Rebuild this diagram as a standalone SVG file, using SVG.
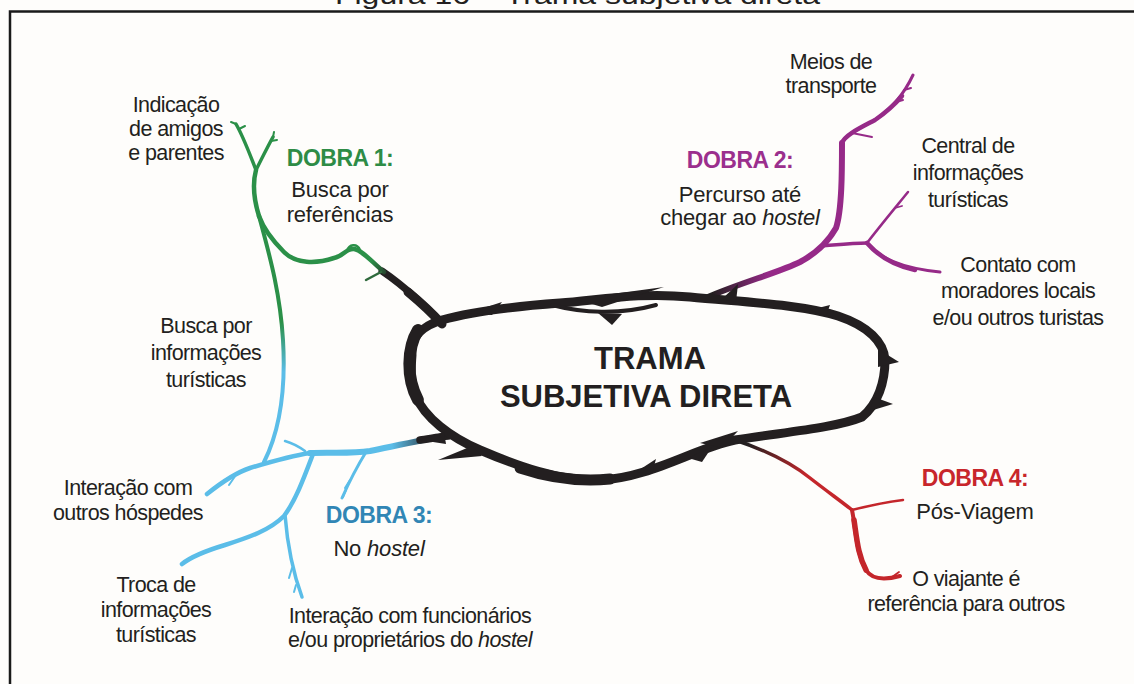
<svg xmlns="http://www.w3.org/2000/svg" width="1134" height="684" viewBox="0 0 1134 684">
<style>
text{font-family:"Liberation Sans",Arial,sans-serif;fill:#231f20;text-anchor:middle}
.lbl{font-size:21.5px;letter-spacing:-0.6px}
.sub{font-size:22px;letter-spacing:-0.2px}
.dob{font-size:23px;font-weight:bold;letter-spacing:-0.5px}
.ctr{font-size:31px;font-weight:bold}
.ttl{font-size:26px;text-anchor:start}
.br{fill:none;stroke-linecap:round;stroke-linejoin:round}
.ring{fill:none;stroke:#231f20;stroke-linejoin:round;stroke-linecap:round}
.thorn{fill:#231f20}
</style>
<defs>
<linearGradient id="gGreenRoot" gradientUnits="userSpaceOnUse" x1="392" y1="280" x2="370" y2="262">
<stop offset="0" stop-color="#231f20"/><stop offset="1" stop-color="#2b9048"/></linearGradient>
<linearGradient id="gStem" gradientUnits="userSpaceOnUse" x1="0" y1="322" x2="0" y2="372">
<stop offset="0" stop-color="#2b9048"/><stop offset="1" stop-color="#5bbde8"/></linearGradient>
<linearGradient id="gBlue" gradientUnits="userSpaceOnUse" x1="440" y1="0" x2="392" y2="0">
<stop offset="0" stop-color="#231f20"/><stop offset="1" stop-color="#5bbde8"/></linearGradient>
<linearGradient id="gPurple" gradientUnits="userSpaceOnUse" x1="712" y1="0" x2="768" y2="0">
<stop offset="0" stop-color="#231f20"/><stop offset="1" stop-color="#962a88"/></linearGradient>
<linearGradient id="gRed" gradientUnits="userSpaceOnUse" x1="748" y1="444" x2="806" y2="476">
<stop offset="0" stop-color="#231f20"/><stop offset="1" stop-color="#c4262b"/></linearGradient>
</defs>
<rect x="0" y="0" width="1134" height="684" fill="#fefdfb"/>
<text class="ttl" x="335" y="4" textLength="485" lengthAdjust="spacingAndGlyphs">Figura 16 – Trama subjetiva direta</text>
<rect x="10" y="11.5" width="1140" height="700" fill="none" stroke="#1a1a1a" stroke-width="2.5"/>

<g id="connectors">
 <!-- Dobra 1 (green) -->
 <path class="br" d="M442,324 C428,308 404,286 382,271" stroke="#231f20" stroke-width="7"/>
 <path class="br" d="M442,324 C432,313 420,302 408,292" stroke="#231f20" stroke-width="9"/>
 <path class="br" d="M384,272 C372,262 362,250 354,249 C346,248 344,256 334,258 C316,264 296,264 284,252 C272,240 264,230 259,216" stroke="url(#gGreenRoot)" stroke-width="4.5"/>
 <path class="br" d="M347,251 C349,244 357,243 360,250" stroke="#2b9048" stroke-width="2.5"/>
 <path class="br" d="M381,272 L366,280" stroke="#2f6a3c" stroke-width="2.5"/>
 <path class="br" d="M259,216 C254,200 252,185 256,170" stroke="#2b9048" stroke-width="4.5"/>
 <path class="br" d="M256,170 C250,155 244,138 236,124" stroke="#2b9048" stroke-width="3.5"/>
 <path class="br" d="M256,170 C262,158 268,146 273,137" stroke="#2b9048" stroke-width="3.5"/>
 <path class="br" d="M239,129 L245,126 M236,124 L231,122 M271,141 L277,140 M273,137 L274,132" stroke="#2b9048" stroke-width="2"/>
 <path class="br" d="M259,216 C268,250 280,290 283,340 C286,390 280,430 264,462" stroke="url(#gStem)" stroke-width="4"/>
 <!-- Dobra 3 (blue) -->
 <path class="br" d="M448,436 C420,440 395,446 370,451 C350,454 330,452 310,453" stroke="url(#gBlue)" stroke-width="6"/>
 <path class="br" d="M448,436 C438,437 428,439 420,440" stroke="#231f20" stroke-width="7.5"/>
 <path class="br" d="M310,453 C290,456 270,462 250,468 C235,473 222,482 207,494" stroke="#5bbde8" stroke-width="4.5"/>
 <path class="br" d="M250,468 C235,473 222,482 207,494" stroke="#5bbde8" stroke-width="3"/>
 <path class="br" d="M305,451 C298,446 292,443 285,441" stroke="#5bbde8" stroke-width="2.5"/>
 <path class="br" d="M238,472 L229,485" stroke="#5bbde8" stroke-width="2"/>
 <path class="br" d="M313,454 C305,475 296,500 284,516 C270,530 250,537 225,545 C205,551 192,556 182,564" stroke="#5bbde8" stroke-width="4.5"/>
 <path class="br" d="M225,545 C205,551 192,556 182,564" stroke="#5bbde8" stroke-width="3"/>
 <path class="br" d="M285,515 C287,540 292,570 302,597" stroke="#5bbde8" stroke-width="3.5"/>
 <path class="br" d="M292,568 L289,578 M296,585 L294,592" stroke="#5bbde8" stroke-width="2"/>
 <path class="br" d="M366,452 C358,465 350,480 342,498" stroke="#5bbde8" stroke-width="3"/>
 <path class="br" d="M350,480 L345,488 M346,490 L343,497" stroke="#5bbde8" stroke-width="2"/>
 <!-- Dobra 2 (purple) -->
 <path class="br" d="M708,297 C740,283 780,272 800,262 C815,254 828,242 836,228 C842,210 842,170 842,143 C845,135 860,128 875,120 C893,108 905,92 913,75" stroke="url(#gPurple)" stroke-width="3"/>
 <path class="br" d="M708,297 C740,283 780,272 800,262 C815,254 828,242 836,228 C842,210 842,170 842,143" stroke="url(#gPurple)" stroke-width="6"/>
 <path class="br" d="M842,143 C845,135 860,128 875,120 C888,111 896,103 902,96" stroke="#962a88" stroke-width="4.5"/>
 <path class="br" d="M852,133 L872,137 M896,102 L903,100 M904,90 L911,88" stroke="#962a88" stroke-width="2"/>
 <path class="br" d="M822,246 C835,245 852,243 867,243" stroke="#962a88" stroke-width="3.5"/>
 <path class="br" d="M867,243 C880,226 895,208 908,192" stroke="#962a88" stroke-width="2.5"/>
 <path class="br" d="M895,208 L902,206" stroke="#962a88" stroke-width="1.8"/>
 <path class="br" d="M867,243 C880,258 900,268 940,272" stroke="#962a88" stroke-width="3"/>
 <path class="br" d="M867,243 C880,258 896,266 915,270" stroke="#962a88" stroke-width="4.5"/>
 <!-- Dobra 4 (red) -->
 <path class="br" d="M735,440 C765,450 790,462 810,478 C828,492 842,502 852,510" stroke="url(#gRed)" stroke-width="3.5"/>
 <path class="br" d="M852,510 C868,506 888,502 903,500" stroke="#c4262b" stroke-width="2.5"/>
 <path class="br" d="M852,510 C856,530 856,552 866,570 C872,580 885,580 900,576" stroke="#c4262b" stroke-width="4"/>
 <path class="br" d="M854,520 C857,540 858,555 866,570" stroke="#c4262b" stroke-width="5.5"/>
 <path class="br" d="M892,577 L899,572" stroke="#c4262b" stroke-width="1.8"/>
</g>

<g id="center">
 <path class="ring" stroke-width="9" d="M412,355 C410,338 422,326 442,320 C470,312 520,306 560,303 C600,300 640,292 690,297 C740,302 800,304 838,316 C868,326 884,342 885,360 C885,382 878,404 862,417 C835,428 785,432 735,440 C695,448 650,478 600,480 C560,482 515,465 480,450 C450,437 425,418 415,395 C410,382 411,368 412,355 Z"/>
 <path class="ring" stroke-width="12" d="M418,330 C407,348 406,378 418,400"/>
 <path class="ring" stroke-width="11" d="M520,468 C550,478 580,482 610,479"/>
 <path class="ring" stroke-width="4" d="M552,305 C582,313 620,315 656,305"/>
 <path class="thorn" d="M575,299 L664,287 L602,307 Z"/>
 <path class="thorn" d="M598,313 L612,325 L622,314 Z"/>
 <path class="thorn" d="M468,313 L502,302 L492,315 Z"/>
 <path class="thorn" d="M878,349 L899,362 L878,367 Z"/>
 <path class="thorn" d="M874,397 L893,404 L870,411 Z"/>
 <path class="thorn" d="M700,443 L738,431 L722,448 Z"/>
 <path class="thorn" d="M688,458 L712,447 L702,462 Z"/>
 <path class="thorn" d="M472,446 L438,460 L482,456 Z"/>
 <path class="thorn" d="M636,472 L656,459 L652,474 Z"/>
 <path class="thorn" d="M420,440 L446,444 L444,432 Z"/>
 <path class="thorn" d="M722,299 L738,284 L736,302 Z"/>
 <path class="thorn" d="M810,310 L830,305 L826,316 Z"/>
 <text class="ctr" x="650" y="369">TRAMA</text>
 <text class="ctr" x="646" y="407">SUBJETIVA DIRETA</text>
</g>

<g id="dobra1">
 <text class="dob" x="340" y="166" style="fill:#2e8c46">DOBRA 1:</text>
 <text class="sub" x="340" y="197">Busca por</text>
 <text class="sub" x="340" y="222">referências</text>
</g>
<g id="indicacao">
 <text class="lbl" x="176" y="112">Indicação</text>
 <text class="lbl" x="176" y="136">de amigos</text>
 <text class="lbl" x="176" y="160">e parentes</text>
</g>
<g id="busca-info">
 <text class="lbl" x="206" y="333">Busca por</text>
 <text class="lbl" x="206" y="360">informações</text>
 <text class="lbl" x="206" y="387">turísticas</text>
</g>
<g id="dobra3">
 <text class="dob" x="379" y="523" style="fill:#3186b5">DOBRA 3:</text>
 <text class="sub" x="379" y="556">No <tspan font-style="italic">hostel</tspan></text>
</g>
<g id="interacao-hospedes">
 <text class="lbl" x="128" y="495">Interação com</text>
 <text class="lbl" x="128" y="520">outros hóspedes</text>
</g>
<g id="troca">
 <text class="lbl" x="156" y="592">Troca de</text>
 <text class="lbl" x="156" y="617">informações</text>
 <text class="lbl" x="156" y="642">turísticas</text>
</g>
<g id="interacao-func">
 <text class="lbl" x="410" y="623">Interação com funcionários</text>
 <text class="lbl" x="410" y="647">e/ou proprietários do <tspan font-style="italic">hostel</tspan></text>
</g>
<g id="dobra2">
 <text class="dob" x="740" y="168" style="fill:#9b2f8d">DOBRA 2:</text>
 <text class="sub" x="740" y="202">Percurso até</text>
 <text class="sub" x="740" y="225">chegar ao <tspan font-style="italic">hostel</tspan></text>
</g>
<g id="meios">
 <text class="lbl" x="831" y="69">Meios de</text>
 <text class="lbl" x="831" y="93">transporte</text>
</g>
<g id="central">
 <text class="lbl" x="968" y="153">Central de</text>
 <text class="lbl" x="968" y="180">informações</text>
 <text class="lbl" x="968" y="207">turísticas</text>
</g>
<g id="contato">
 <text class="lbl" x="1018" y="272">Contato com</text>
 <text class="lbl" x="1018" y="298">moradores locais</text>
 <text class="lbl" x="1018" y="325">e/ou outros turistas</text>
</g>
<g id="dobra4">
 <text class="dob" x="975" y="486" style="fill:#c8262b">DOBRA 4:</text>
 <text class="sub" x="975" y="519">Pós-Viagem</text>
</g>
<g id="viajante">
 <text class="lbl" x="966" y="586">O viajante é</text>
 <text class="lbl" x="966" y="611">referência para outros</text>
</g>
</svg>
